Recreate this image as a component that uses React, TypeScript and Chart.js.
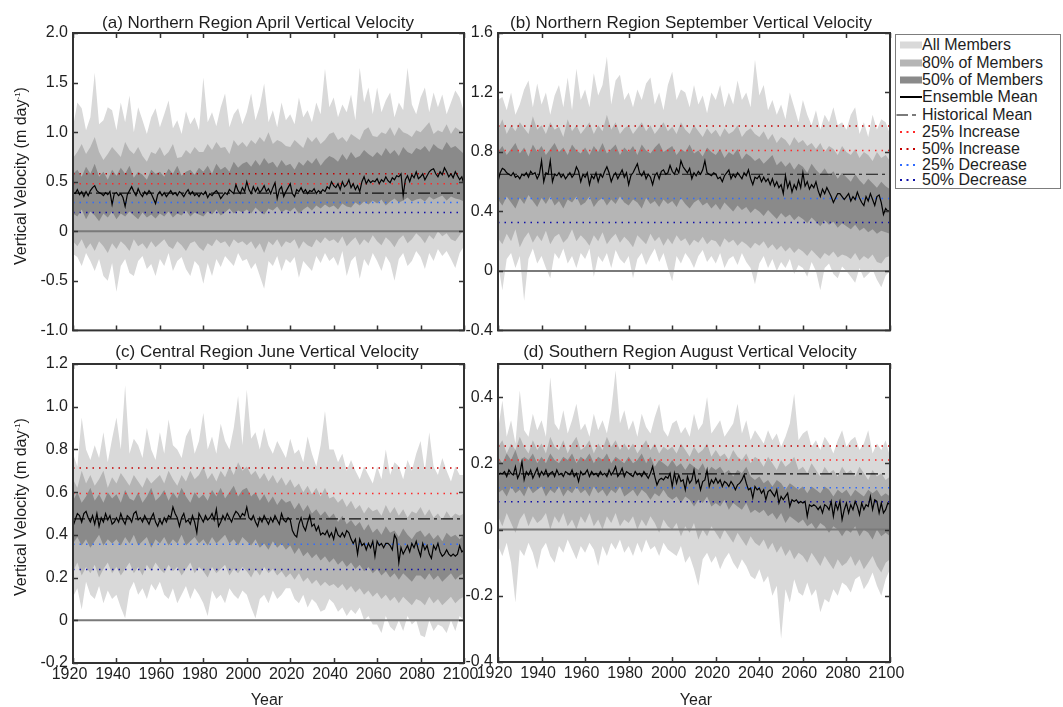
import React, { useEffect, useRef } from "react";
import { Chart, registerables } from "chart.js";

Chart.register(...registerables);

const FONT = '"Liberation Sans", Arial, Helvetica, sans-serif';

// ---------- shared categories ----------
const YEARS = Array.from({ length: 181 }, (_, i) => 1920 + i);
const BAND_YEARS = Array.from({ length: 91 }, (_, i) => 1920 + 2 * i);
const X_TICKS = [1920, 1940, 1960, 1980, 2000, 2020, 2040, 2060, 2080, 2100];
const X_LABELS = ["1920", "1940", "1960", "1980", "2000", "2020", "2040", "2060", "2080", "2100"];

// ---------- (a) Northern Region April ----------
const A_Y_TICKS = [-1, -0.5, 0, 0.5, 1, 1.5, 2];
const A_Y_LABELS = ["-1.0", "-0.5", "0", "0.5", "1.0", "1.5", "2.0"];
// historical mean, +25%, +50%, -25%, -50%
const A_LEVELS = [0.385, 0.48, 0.58, 0.29, 0.19];
const A_MEAN = [
  0.39, 0.38, 0.42, 0.37, 0.40, 0.35, 0.40, 0.36, 0.41, 0.44,
  0.46, 0.41, 0.39, 0.38, 0.36, 0.39, 0.37, 0.40, 0.27, 0.38,
  0.39, 0.36, 0.38, 0.34, 0.25, 0.37, 0.41, 0.45, 0.40, 0.36,
  0.43, 0.38, 0.35, 0.40, 0.37, 0.41, 0.38, 0.33, 0.28, 0.37,
  0.40, 0.36, 0.39, 0.35, 0.38, 0.41, 0.37, 0.39, 0.36, 0.40,
  0.38, 0.35, 0.39, 0.42, 0.37, 0.40, 0.36, 0.38, 0.35, 0.39,
  0.37, 0.40, 0.34, 0.38, 0.36, 0.39, 0.41, 0.38, 0.33, 0.36,
  0.39, 0.37, 0.42, 0.40, 0.38, 0.47, 0.41, 0.38, 0.44, 0.40,
  0.50, 0.42, 0.38, 0.45, 0.40, 0.44, 0.39, 0.42, 0.46, 0.40,
  0.43, 0.38, 0.44, 0.49, 0.33, 0.42, 0.45, 0.35, 0.40, 0.44,
  0.48, 0.38, 0.35, 0.42, 0.40, 0.44, 0.39, 0.42, 0.38, 0.41,
  0.40, 0.43, 0.38, 0.41, 0.39, 0.42, 0.40, 0.45, 0.43, 0.50,
  0.46, 0.44, 0.48, 0.42, 0.50, 0.45, 0.47, 0.52, 0.44, 0.48,
  0.42, 0.46, 0.40, 0.50, 0.55, 0.48, 0.52, 0.49, 0.51, 0.50,
  0.53, 0.48, 0.52, 0.50, 0.55, 0.51, 0.49, 0.54, 0.52, 0.56,
  0.55, 0.58, 0.36, 0.52, 0.56, 0.50, 0.57, 0.54, 0.60, 0.53,
  0.55, 0.58, 0.52, 0.56, 0.60, 0.62, 0.63, 0.58, 0.55, 0.60,
  0.57, 0.64, 0.60, 0.55, 0.58, 0.54, 0.60, 0.56, 0.52, 0.55,
  0.47,
];
const A_ALL_HI = [
  1.05, 1.30, 1.24, 1.02, 1.15, 1.60, 1.08, 1.12, 1.25, 1.22,
  1.02, 1.30, 1.10, 1.37, 1.00, 1.25, 1.12, 0.98, 1.15, 1.24,
  1.05, 1.18, 1.32, 1.04, 1.12, 0.98, 1.21, 1.08, 1.15, 1.02,
  1.55, 1.10, 1.20, 1.06, 1.25, 1.39, 1.05, 1.18, 1.24, 1.08,
  1.20, 1.39, 1.12, 1.26, 1.49, 1.10, 1.22, 1.05, 1.30, 1.12,
  1.18, 1.08, 1.35, 1.15, 1.22, 1.10, 1.30, 1.18, 1.64, 1.25,
  1.35, 1.15, 1.28, 1.20, 1.38, 1.12, 1.65, 1.30, 1.45, 1.18,
  1.45, 1.20, 1.32, 1.40, 1.15, 1.30, 1.22, 1.65, 1.28, 1.18,
  1.35, 1.45, 1.20, 1.40, 1.25, 1.38, 1.18, 1.30, 1.42, 1.35,
  1.20,
];
const A_ALL_LO = [
  -0.23, -0.26, -0.35, -0.22, -0.30, -0.40, -0.28, -0.45, -0.50, -0.32,
  -0.61, -0.35, -0.28, -0.42, -0.45, -0.30, -0.25, -0.38, -0.33, -0.45,
  -0.28, -0.35, -0.22, -0.40, -0.30, -0.26, -0.38, -0.45, -0.30, -0.35,
  -0.53, -0.32, -0.45, -0.28, -0.36, -0.25, -0.30, -0.35, -0.22, -0.30,
  -0.28, -0.38, -0.32, -0.45, -0.58, -0.30, -0.35, -0.25, -0.40, -0.28,
  -0.32, -0.26, -0.47, -0.30, -0.35, -0.40, -0.25, -0.32, -0.22, -0.30,
  -0.26, -0.35, -0.20, -0.45, -0.30, -0.25, -0.48, -0.28, -0.35, -0.22,
  -0.30, -0.40, -0.25, -0.32, -0.50, -0.28, -0.22, -0.35, -0.30, -0.20,
  -0.26, -0.38, -0.22, -0.30, -0.18, -0.25, -0.20, -0.28, -0.37, -0.22,
  -0.15,
];
const A_P80_HI = [
  0.74, 0.80, 0.88, 0.78, 0.85, 0.95, 0.80, 0.72, 0.78, 0.85,
  0.80, 0.75, 0.90, 0.82, 0.78, 0.85, 0.76, 0.70, 0.80, 0.78,
  0.85, 0.76, 0.80, 0.88, 0.74, 0.75, 0.82, 0.78, 0.85, 0.80,
  0.80, 0.88, 0.82, 0.90, 0.84, 0.85, 0.78, 0.92, 0.86, 0.90,
  0.85, 0.92, 0.88, 0.95, 0.90, 1.00, 0.88, 0.92, 0.90, 0.86,
  0.85, 0.92, 0.88, 0.84, 0.95, 0.90, 0.95, 0.88, 0.92, 0.98,
  1.00, 0.92, 0.95, 0.90, 0.98, 0.95, 0.92, 1.02, 1.05, 0.96,
  0.95, 1.00, 0.98, 1.05, 0.96, 1.05, 1.00, 0.98, 0.95, 1.02,
  1.00, 1.05, 1.10, 0.98, 1.02, 1.00, 1.08, 0.98, 1.05, 1.02,
  0.95,
];
const A_P80_LO = [
  -0.10, -0.15, -0.08, -0.18, -0.12, -0.20, -0.10, -0.15, -0.22, -0.12,
  -0.18, -0.10, -0.14, -0.20, -0.08, -0.15, -0.12, -0.18, -0.10, -0.16,
  -0.12, -0.08, -0.15, -0.18, -0.10, -0.14, -0.20, -0.12, -0.10, -0.16,
  -0.20, -0.12, -0.15, -0.08, -0.12, -0.10, -0.16, -0.08, -0.12, -0.10,
  -0.14, -0.10, -0.18, -0.12, -0.22, -0.10, -0.14, -0.08, -0.16, -0.10,
  -0.12, -0.08, -0.18, -0.10, -0.14, -0.16, -0.08, -0.12, -0.06, -0.10,
  -0.08, -0.12, -0.05, -0.15, -0.10, -0.06, -0.14, -0.08, -0.12, -0.04,
  -0.10, -0.14, -0.06, -0.10, -0.16, -0.08, -0.04, -0.12, -0.08, -0.02,
  -0.06, -0.12, -0.04, -0.08, 0.00, -0.05, -0.02, -0.08, -0.10, -0.04,
  0.02,
];
const A_P50_HI = [
  0.58, 0.62, 0.55, 0.65, 0.58, 0.68, 0.55, 0.60, 0.52, 0.62,
  0.56, 0.64, 0.58, 0.66, 0.54, 0.60, 0.57, 0.52, 0.62, 0.58,
  0.60, 0.55, 0.63, 0.58, 0.66, 0.56, 0.60, 0.62, 0.57, 0.64,
  0.60, 0.66, 0.58, 0.68, 0.62, 0.65, 0.60, 0.70, 0.64, 0.68,
  0.70, 0.65, 0.72, 0.66, 0.74, 0.68, 0.70, 0.64, 0.72, 0.66,
  0.68, 0.62, 0.70, 0.66, 0.72, 0.68, 0.74, 0.66, 0.72, 0.76,
  0.74, 0.70, 0.78, 0.72, 0.80, 0.74, 0.76, 0.82, 0.78, 0.75,
  0.80, 0.76, 0.84, 0.78, 0.82, 0.76, 0.85, 0.80, 0.78, 0.84,
  0.82, 0.86, 0.80, 0.88, 0.84, 0.82, 0.90, 0.84, 0.86, 0.82,
  0.78,
];
const A_P50_LO = [
  0.18, 0.15, 0.22, 0.12, 0.20, 0.16, 0.10, 0.18, 0.14, 0.20,
  0.12, 0.18, 0.15, 0.20, 0.16, 0.12, 0.19, 0.14, 0.17, 0.13,
  0.18, 0.15, 0.20, 0.14, 0.18, 0.16, 0.21, 0.15, 0.19, 0.17,
  0.15, 0.20, 0.17, 0.22, 0.16, 0.19, 0.23, 0.18, 0.21, 0.19,
  0.22, 0.18, 0.24, 0.20, 0.17, 0.23, 0.21, 0.25, 0.19, 0.22,
  0.20, 0.24, 0.18, 0.22, 0.25, 0.21, 0.26, 0.23, 0.27, 0.24,
  0.26, 0.22, 0.28, 0.25, 0.24, 0.29, 0.26, 0.30, 0.27, 0.31,
  0.28, 0.32, 0.26, 0.30, 0.33, 0.29, 0.31, 0.34, 0.30, 0.32,
  0.33, 0.30, 0.35, 0.32, 0.34, 0.36, 0.31, 0.35, 0.33, 0.32,
  0.30,
];

// ---------- (b) Northern Region September ----------
const B_Y_TICKS = [-0.4, 0, 0.4, 0.8, 1.2, 1.6];
const B_Y_LABELS = ["-0.4", "0", "0.4", "0.8", "1.2", "1.6"];
const B_LEVELS = [0.65, 0.81, 0.975, 0.487, 0.325];
const B_MEAN = [
  0.60, 0.66, 0.69, 0.68, 0.66, 0.65, 0.64, 0.66, 0.63, 0.64,
  0.62, 0.65, 0.64, 0.66, 0.63, 0.67, 0.65, 0.66, 0.62, 0.65,
  0.74, 0.60, 0.66, 0.65, 0.74, 0.60, 0.65, 0.64, 0.66, 0.63,
  0.65, 0.62, 0.64, 0.66, 0.63, 0.65, 0.70, 0.67, 0.60, 0.65,
  0.63, 0.66, 0.58, 0.64, 0.62, 0.66, 0.60, 0.65, 0.63, 0.67,
  0.70, 0.66, 0.60, 0.64, 0.66, 0.62, 0.65, 0.68, 0.63, 0.66,
  0.58, 0.64, 0.66, 0.69, 0.72, 0.66, 0.64, 0.67, 0.62, 0.65,
  0.63, 0.58, 0.64, 0.66, 0.62, 0.67, 0.68, 0.65, 0.66, 0.71,
  0.67, 0.65, 0.69, 0.66, 0.74, 0.70, 0.68, 0.66, 0.69, 0.62,
  0.66, 0.64, 0.67, 0.65, 0.68, 0.74, 0.66, 0.65, 0.64, 0.66,
  0.65, 0.62, 0.63, 0.60, 0.64, 0.66, 0.68, 0.62, 0.65, 0.63,
  0.66, 0.64, 0.62, 0.66, 0.64, 0.68, 0.62, 0.58, 0.63, 0.62,
  0.64, 0.60, 0.63, 0.60, 0.62, 0.58, 0.62, 0.57, 0.60, 0.56,
  0.58, 0.52, 0.64, 0.56, 0.60, 0.53, 0.58, 0.55, 0.61, 0.56,
  0.66, 0.57, 0.60, 0.55, 0.58, 0.56, 0.60, 0.54, 0.50, 0.55,
  0.52, 0.56, 0.53, 0.50, 0.46, 0.49, 0.52, 0.52, 0.50, 0.48,
  0.50, 0.52, 0.47, 0.50, 0.48, 0.53, 0.49, 0.46, 0.44, 0.50,
  0.47, 0.52, 0.48, 0.44, 0.50, 0.51, 0.46, 0.38, 0.42, 0.40,
  0.41,
];
const B_ALL_HI = [
  1.15, 1.17, 1.08, 1.20, 1.05, 1.12, 1.22, 1.28, 1.10, 1.26,
  1.12, 1.20, 1.05, 1.18, 1.25, 1.10, 1.30, 1.08, 1.36, 1.15,
  1.22, 1.10, 1.33, 1.18, 1.25, 1.44, 1.12, 1.28, 1.32, 1.15,
  1.20, 1.10, 1.22, 1.15, 1.26, 1.30, 1.12, 1.20, 1.08, 1.25,
  1.34, 1.15, 1.22, 1.20, 1.10, 1.25, 1.12, 1.18, 1.06, 1.20,
  1.15, 1.25, 1.10, 1.20, 1.12, 1.28, 1.15, 1.20, 1.10, 1.42,
  1.18, 1.25, 1.08, 1.15, 1.05, 1.12, 1.02, 1.20, 1.10, 1.00,
  1.15, 1.05, 0.98, 1.08, 0.95, 1.05, 1.00, 1.10, 0.98, 1.00,
  0.95, 1.05, 1.10, 0.92, 1.00, 0.90, 1.05, 0.95, 1.02, 1.00,
  0.92,
];
const B_ALL_LO = [
  0.05, -0.13, 0.08, 0.12, 0.02, 0.10, -0.20, 0.08, 0.15, 0.05,
  0.10, 0.02, -0.05, 0.12, 0.08, 0.15, 0.05, 0.10, 0.02, 0.12,
  0.08, 0.15, -0.04, 0.10, 0.06, 0.12, 0.02, 0.14, 0.08, 0.05,
  0.10, -0.05, 0.08, 0.12, 0.04, 0.10, 0.15, 0.06, 0.12, 0.02,
  -0.07, 0.10, 0.05, 0.12, 0.08, 0.02, 0.10, 0.14, 0.06, 0.10,
  0.05, 0.12, 0.02, 0.08, 0.10, 0.04, 0.12, 0.06, 0.02, -0.09,
  0.05, 0.10, 0.02, 0.08, 0.00, 0.06, 0.02, 0.08, -0.02, 0.04,
  0.02, -0.04, 0.06, 0.00, -0.13, 0.02, 0.05, -0.02, -0.05, 0.03,
  0.00, -0.04, -0.08, 0.02, -0.05, -0.02, 0.01, -0.06, -0.11, -0.03,
  0.00,
];
const B_P80_HI = [
  0.95, 1.02, 0.92, 0.98, 0.94, 1.00, 0.96, 0.92, 1.04, 0.95,
  0.98, 0.92, 1.00, 0.95, 0.97, 0.90, 1.02, 0.94, 0.98, 0.92,
  0.96, 1.00, 0.92, 0.98, 0.94, 1.05, 0.95, 1.00, 0.92, 0.96,
  0.98, 0.92, 0.96, 1.00, 0.94, 0.98, 0.92, 0.96, 1.00, 0.94,
  0.97, 0.92, 1.00, 0.95, 0.92, 0.98, 0.94, 0.90, 0.96, 0.92,
  0.95, 0.90, 0.96, 0.92, 0.94, 0.98, 0.90, 0.94, 0.96, 0.92,
  0.90, 0.94, 0.88, 0.92, 0.86, 0.90, 0.88, 0.84, 0.90, 0.86,
  0.88, 0.84, 0.86, 0.82, 0.86, 0.80, 0.84, 0.82, 0.78, 0.84,
  0.80, 0.78, 0.82, 0.76, 0.80, 0.78, 0.74, 0.80, 0.76, 0.78,
  0.74,
];
const B_P80_LO = [
  0.22, 0.18, 0.25, 0.20, 0.28, 0.16, 0.22, 0.26, 0.19, 0.24,
  0.20, 0.27, 0.18, 0.23, 0.25, 0.19, 0.22, 0.28, 0.20, 0.24,
  0.21, 0.17, 0.24, 0.20, 0.26, 0.18, 0.22, 0.25, 0.19, 0.23,
  0.20, 0.16, 0.24, 0.21, 0.18, 0.25, 0.20, 0.23, 0.17, 0.22,
  0.18, 0.24, 0.20, 0.22, 0.17, 0.21, 0.19, 0.23, 0.18, 0.21,
  0.20, 0.16, 0.22, 0.19, 0.21, 0.17, 0.20, 0.18, 0.15, 0.19,
  0.17, 0.20, 0.15, 0.18, 0.14, 0.17, 0.13, 0.16, 0.12, 0.15,
  0.13, 0.10, 0.14, 0.11, 0.08, 0.12, 0.10, 0.13, 0.09, 0.11,
  0.10, 0.08, 0.12, 0.07, 0.10, 0.08, 0.11, 0.06, 0.05, 0.09,
  0.10,
];
const B_P50_HI = [
  0.80, 0.84, 0.78, 0.82, 0.86, 0.79, 0.83, 0.77, 0.85, 0.80,
  0.84, 0.78, 0.82, 0.86, 0.80, 0.83, 0.78, 0.85, 0.81, 0.79,
  0.83, 0.78, 0.84, 0.80, 0.86, 0.79, 0.82, 0.85, 0.78, 0.83,
  0.80, 0.84, 0.78, 0.85, 0.81, 0.79, 0.83, 0.86, 0.80, 0.82,
  0.84, 0.78, 0.82, 0.80, 0.85, 0.79, 0.81, 0.77, 0.83, 0.80,
  0.78, 0.82, 0.76, 0.80, 0.78, 0.82, 0.75, 0.79, 0.77, 0.74,
  0.76, 0.72, 0.75, 0.78, 0.71, 0.74, 0.70, 0.73, 0.68, 0.72,
  0.70, 0.66, 0.72, 0.68, 0.65, 0.69, 0.64, 0.67, 0.62, 0.66,
  0.63, 0.60, 0.65, 0.61, 0.58, 0.62, 0.59, 0.56, 0.60, 0.57,
  0.55,
];
const B_P50_LO = [
  0.48, 0.44, 0.50, 0.46, 0.42, 0.49, 0.45, 0.51, 0.47, 0.43,
  0.49, 0.45, 0.50, 0.44, 0.47, 0.42, 0.48, 0.46, 0.50, 0.44,
  0.46, 0.50, 0.43, 0.47, 0.49, 0.44, 0.48, 0.45, 0.50, 0.46,
  0.44, 0.48, 0.46, 0.42, 0.49, 0.45, 0.47, 0.43, 0.48, 0.45,
  0.47, 0.43, 0.49, 0.45, 0.42, 0.46, 0.48, 0.44, 0.46, 0.42,
  0.45, 0.41, 0.46, 0.43, 0.40, 0.44, 0.41, 0.43, 0.39, 0.42,
  0.40, 0.37, 0.41, 0.38, 0.35, 0.39, 0.36, 0.38, 0.34, 0.37,
  0.35, 0.32, 0.36, 0.33, 0.30, 0.34, 0.31, 0.33, 0.29, 0.32,
  0.30, 0.28, 0.31, 0.27, 0.29, 0.26, 0.28, 0.25, 0.27, 0.26,
  0.25,
];

// ---------- (c) Central Region June ----------
const C_Y_TICKS = [-0.2, 0, 0.2, 0.4, 0.6, 0.8, 1.0, 1.2];
const C_Y_LABELS = ["-0.2", "0", "0.2", "0.4", "0.6", "0.8", "1.0", "1.2"];
const C_LEVELS = [0.475, 0.594, 0.7125, 0.356, 0.2375];
const C_MEAN = [
  0.44, 0.47, 0.50, 0.49, 0.46, 0.50, 0.51, 0.48, 0.46, 0.49,
  0.45, 0.50, 0.44, 0.48, 0.46, 0.50, 0.47, 0.49, 0.45, 0.46,
  0.48, 0.46, 0.50, 0.47, 0.45, 0.49, 0.48, 0.46, 0.50, 0.51,
  0.47, 0.48, 0.46, 0.49, 0.47, 0.45, 0.48, 0.50, 0.46, 0.44,
  0.47, 0.45, 0.48, 0.46, 0.49, 0.48, 0.53, 0.50, 0.48, 0.44,
  0.48, 0.50, 0.46, 0.47, 0.45, 0.49, 0.46, 0.41, 0.50, 0.48,
  0.46, 0.49, 0.47, 0.48, 0.50, 0.47, 0.52, 0.44, 0.46, 0.49,
  0.47, 0.50, 0.48, 0.46, 0.49, 0.51, 0.50, 0.48, 0.50, 0.49,
  0.53, 0.48, 0.47, 0.49, 0.46, 0.44, 0.48, 0.46, 0.49, 0.47,
  0.45, 0.48, 0.46, 0.49, 0.47, 0.45, 0.50, 0.47, 0.46, 0.48,
  0.47, 0.42, 0.40, 0.39, 0.45, 0.48, 0.44, 0.42, 0.46, 0.49,
  0.44, 0.45, 0.42, 0.44, 0.40, 0.41, 0.40, 0.42, 0.39, 0.41,
  0.38, 0.43, 0.40, 0.39, 0.41, 0.39, 0.42, 0.41, 0.38, 0.36,
  0.38, 0.31, 0.38, 0.35, 0.36, 0.33, 0.36, 0.34, 0.37, 0.30,
  0.37, 0.35, 0.36, 0.34, 0.36, 0.36, 0.35, 0.33, 0.40, 0.38,
  0.27, 0.34, 0.31, 0.33, 0.35, 0.32, 0.36, 0.34, 0.37, 0.33,
  0.30, 0.36, 0.33, 0.35, 0.31, 0.29, 0.35, 0.33, 0.36, 0.32,
  0.30, 0.31, 0.33, 0.31, 0.30, 0.31, 0.30, 0.31, 0.35, 0.32,
  0.33,
];
const C_ALL_HI = [
  0.78, 0.72, 0.95, 0.80, 0.75, 0.82, 0.76, 0.88, 0.74, 0.85,
  0.95, 0.80, 1.10, 0.78, 0.85, 0.82, 0.76, 0.90, 0.80, 0.75,
  0.88, 0.78, 0.94, 0.82, 0.80, 0.76, 0.86, 0.90, 0.78, 0.84,
  0.97, 0.80, 0.86, 0.78, 0.92, 0.84, 0.80, 0.90, 1.05, 0.82,
  1.08, 0.85, 0.88, 0.80, 0.90, 0.82, 0.78, 0.84, 0.80, 0.76,
  0.85, 0.78, 0.80, 0.74, 0.86, 0.78, 0.72, 0.82, 0.98, 0.80,
  0.80, 0.74, 0.78, 0.70, 0.75, 0.70, 0.66, 0.72, 0.68, 0.64,
  0.72, 0.66, 0.80, 0.68, 0.74, 0.72, 0.66, 0.75, 0.70, 0.78,
  0.84, 0.70, 0.88, 0.72, 0.68, 0.76, 0.70, 0.65, 0.72, 0.68,
  0.68,
];
const C_ALL_LO = [
  0.11, 0.15, 0.05, 0.18, 0.12, 0.10, 0.16, 0.08, 0.14, 0.10,
  0.12, 0.06, 0.01, 0.14, 0.18, 0.12, 0.15, 0.10, 0.17, 0.14,
  0.18, 0.12, 0.10, 0.15, 0.08, 0.12, 0.16, 0.10, 0.15, 0.12,
  0.08, 0.02, 0.14, 0.10, 0.12, 0.08, 0.15, 0.12, 0.10, 0.14,
  0.12, 0.06, 0.01, 0.10, 0.12, 0.08, 0.14, 0.10, 0.12, 0.15,
  0.15, 0.10, 0.08, 0.12, 0.06, 0.10, 0.08, 0.04, 0.05, 0.10,
  0.08, 0.04, 0.06, 0.02, 0.05, 0.03, 0.06, 0.00, 0.02, -0.02,
  -0.02, -0.06, 0.02, -0.03, -0.05, 0.00, -0.05, 0.02, -0.02, 0.00,
  -0.07, -0.08, 0.00, -0.05, -0.02, -0.03, -0.06, 0.00, -0.05, 0.02,
  0.00,
];
const C_P80_HI = [
  0.66, 0.62, 0.70, 0.64, 0.68, 0.63, 0.66, 0.70, 0.62, 0.67,
  0.64, 0.69, 0.66, 0.63, 0.68, 0.65, 0.62, 0.67, 0.64, 0.66,
  0.68, 0.64, 0.70, 0.66, 0.63, 0.68, 0.65, 0.70, 0.66, 0.68,
  0.72, 0.66, 0.69, 0.65, 0.70, 0.67, 0.72, 0.68, 0.74, 0.70,
  0.72, 0.68, 0.70, 0.66, 0.69, 0.65, 0.68, 0.64, 0.67, 0.63,
  0.66, 0.62, 0.64, 0.60, 0.63, 0.59, 0.62, 0.58, 0.62, 0.57,
  0.58, 0.55, 0.57, 0.53, 0.56, 0.52, 0.54, 0.50, 0.53, 0.51,
  0.52, 0.49, 0.54, 0.50, 0.53, 0.49, 0.52, 0.48, 0.51, 0.50,
  0.53, 0.49, 0.52, 0.48, 0.50, 0.47, 0.51, 0.48, 0.50, 0.49,
  0.50,
];
const C_P80_LO = [
  0.23, 0.27, 0.21, 0.25, 0.22, 0.26, 0.20, 0.24, 0.27, 0.22,
  0.25, 0.21, 0.24, 0.27, 0.22, 0.25, 0.21, 0.26, 0.23, 0.27,
  0.24, 0.22, 0.26, 0.23, 0.25, 0.21, 0.24, 0.27, 0.22, 0.25,
  0.23, 0.20, 0.25, 0.22, 0.24, 0.26, 0.21, 0.24, 0.22, 0.25,
  0.23, 0.20, 0.24, 0.21, 0.25, 0.22, 0.24, 0.21, 0.23, 0.20,
  0.22, 0.19, 0.22, 0.18, 0.20, 0.17, 0.19, 0.16, 0.18, 0.16,
  0.17, 0.15, 0.17, 0.14, 0.16, 0.13, 0.15, 0.12, 0.14, 0.11,
  0.13, 0.10, 0.12, 0.09, 0.11, 0.08, 0.11, 0.09, 0.07, 0.10,
  0.09, 0.07, 0.11, 0.08, 0.10, 0.07, 0.09, 0.11, 0.08, 0.10,
  0.11,
];
const C_P50_HI = [
  0.56, 0.60, 0.55, 0.58, 0.62, 0.56, 0.59, 0.55, 0.60, 0.57,
  0.59, 0.55, 0.61, 0.57, 0.56, 0.60, 0.55, 0.58, 0.62, 0.56,
  0.58, 0.61, 0.56, 0.60, 0.57, 0.62, 0.58, 0.55, 0.60, 0.57,
  0.59, 0.56, 0.61, 0.58, 0.62, 0.57, 0.60, 0.63, 0.58, 0.61,
  0.62, 0.58, 0.60, 0.56, 0.59, 0.55, 0.58, 0.54, 0.57, 0.55,
  0.56, 0.52, 0.55, 0.51, 0.54, 0.50, 0.52, 0.49, 0.51, 0.48,
  0.50, 0.46, 0.49, 0.45, 0.47, 0.44, 0.46, 0.42, 0.45, 0.41,
  0.43, 0.40, 0.44, 0.41, 0.42, 0.39, 0.43, 0.40, 0.38, 0.41,
  0.42, 0.39, 0.41, 0.38, 0.40, 0.37, 0.41, 0.39, 0.40, 0.38,
  0.40,
];
const C_P50_LO = [
  0.36, 0.39, 0.35, 0.38, 0.34, 0.37, 0.40, 0.35, 0.38, 0.36,
  0.38, 0.35, 0.39, 0.36, 0.40, 0.35, 0.37, 0.39, 0.34, 0.38,
  0.36, 0.39, 0.35, 0.38, 0.36, 0.40, 0.35, 0.37, 0.39, 0.36,
  0.38, 0.35, 0.39, 0.36, 0.38, 0.40, 0.36, 0.38, 0.35, 0.39,
  0.37, 0.35, 0.38, 0.34, 0.36, 0.33, 0.37, 0.34, 0.36, 0.33,
  0.35, 0.31, 0.34, 0.30, 0.32, 0.29, 0.31, 0.28, 0.30, 0.27,
  0.29, 0.26, 0.28, 0.25, 0.27, 0.24, 0.26, 0.23, 0.25, 0.22,
  0.24, 0.21, 0.23, 0.20, 0.22, 0.19, 0.22, 0.20, 0.18, 0.21,
  0.21, 0.19, 0.22, 0.19, 0.21, 0.18, 0.20, 0.22, 0.19, 0.21,
  0.22,
];

// ---------- (d) Southern Region August ----------
const D_Y_TICKS = [-0.4, -0.2, 0, 0.2, 0.4];
const D_Y_LABELS = ["-0.4", "-0.2", "0", "0.2", "0.4"];
const D_LEVELS = [0.168, 0.21, 0.252, 0.126, 0.084];
const D_MEAN = [
  0.165, 0.17, 0.168, 0.175, 0.16, 0.18, 0.17, 0.165, 0.19, 0.155,
  0.17, 0.205, 0.15, 0.175, 0.165, 0.18, 0.155, 0.17, 0.185, 0.16,
  0.175, 0.165, 0.18, 0.16, 0.17, 0.175, 0.16, 0.18, 0.165, 0.17,
  0.16, 0.175, 0.17, 0.165, 0.18, 0.16, 0.17, 0.145, 0.175, 0.165,
  0.17, 0.18, 0.16, 0.175, 0.165, 0.17, 0.16, 0.175, 0.165, 0.17,
  0.16, 0.18, 0.165, 0.175, 0.19, 0.16, 0.17, 0.185, 0.16, 0.175,
  0.17, 0.165, 0.16, 0.175, 0.165, 0.17, 0.16, 0.175, 0.165, 0.155,
  0.17, 0.19, 0.16, 0.135, 0.15, 0.155, 0.15, 0.16, 0.155, 0.17,
  0.13, 0.17, 0.14, 0.165, 0.145, 0.15, 0.12, 0.16, 0.14, 0.15,
  0.18, 0.14, 0.15, 0.12, 0.145, 0.15, 0.18, 0.13, 0.15, 0.14,
  0.155, 0.14, 0.15, 0.13, 0.145, 0.14, 0.13, 0.145, 0.135, 0.12,
  0.135, 0.14, 0.15, 0.165, 0.14, 0.12, 0.125, 0.095, 0.13, 0.12,
  0.125, 0.11, 0.12, 0.09, 0.115, 0.12, 0.11, 0.10, 0.12, 0.08,
  0.10, 0.09, 0.10, 0.11, 0.07, 0.09, 0.085, 0.09, 0.08, 0.085,
  0.08, 0.085, 0.04, 0.075, 0.07, 0.075, 0.07, 0.06, 0.07, 0.05,
  0.075, 0.07, 0.06, 0.085, 0.04, 0.08, 0.06, 0.085, 0.03, 0.06,
  0.08, 0.05, 0.075, 0.06, 0.085, 0.07, 0.045, 0.08, 0.06, 0.075,
  0.07, 0.10, 0.06, 0.09, 0.085, 0.05, 0.08, 0.05, 0.06, 0.08,
  0.075,
];
const D_ALL_HI = [
  0.30, 0.39, 0.28, 0.33, 0.26, 0.42, 0.30, 0.28, 0.35, 0.30,
  0.33, 0.28, 0.46, 0.32, 0.30, 0.36, 0.29, 0.33, 0.38, 0.30,
  0.32, 0.28, 0.35, 0.30, 0.33, 0.29, 0.36, 0.48, 0.32, 0.36,
  0.30, 0.33, 0.28, 0.35, 0.31, 0.29, 0.34, 0.38, 0.30, 0.28,
  0.32, 0.33, 0.29, 0.31, 0.28, 0.35, 0.30, 0.32, 0.40, 0.29,
  0.31, 0.33, 0.28, 0.30, 0.32, 0.38, 0.29, 0.33, 0.27, 0.30,
  0.28, 0.26, 0.30, 0.27, 0.29, 0.25, 0.28, 0.32, 0.41, 0.27,
  0.29, 0.30, 0.25, 0.27, 0.24, 0.28, 0.26, 0.23, 0.27, 0.30,
  0.25, 0.27, 0.28, 0.24, 0.26, 0.30, 0.23, 0.26, 0.24, 0.27,
  0.22,
];
const D_ALL_LO = [
  -0.05, -0.08, -0.04, -0.10, -0.22, -0.06, -0.08, -0.04, -0.07, -0.12,
  -0.06, -0.04, -0.08, -0.10, -0.05, -0.07, -0.03, -0.06, -0.09, -0.05,
  -0.07, -0.04, -0.06, -0.11, -0.05, -0.08, -0.04, -0.06, -0.03, -0.07,
  -0.05, -0.08, -0.04, -0.07, -0.03, -0.06, -0.05, -0.08, -0.04, -0.06,
  -0.07, -0.08, -0.05, -0.10, -0.08, -0.12, -0.17, -0.09, -0.07, -0.10,
  -0.08, -0.12, -0.09, -0.07, -0.10, -0.12, -0.09, -0.11, -0.14, -0.15,
  -0.12, -0.16, -0.14, -0.20, -0.17, -0.33, -0.18, -0.22, -0.15, -0.19,
  -0.20, -0.16, -0.20, -0.18, -0.25, -0.21, -0.22, -0.18, -0.20, -0.16,
  -0.17, -0.19, -0.15, -0.14, -0.18, -0.16, -0.13, -0.17, -0.20, -0.15,
  -0.12,
];
const D_P80_HI = [
  0.25, 0.27, 0.23, 0.26, 0.24, 0.28, 0.25, 0.23, 0.27, 0.24,
  0.26, 0.23, 0.28, 0.25, 0.24, 0.27, 0.23, 0.26, 0.28, 0.24,
  0.25, 0.27, 0.23, 0.26, 0.24, 0.28, 0.25, 0.27, 0.24, 0.26,
  0.24, 0.26, 0.23, 0.25, 0.27, 0.24, 0.26, 0.23, 0.25, 0.24,
  0.25, 0.23, 0.26, 0.24, 0.22, 0.25, 0.23, 0.24, 0.26, 0.22,
  0.24, 0.22, 0.23, 0.21, 0.24, 0.22, 0.21, 0.23, 0.20, 0.22,
  0.21, 0.19, 0.22, 0.20, 0.18, 0.21, 0.19, 0.20, 0.22, 0.18,
  0.19, 0.17, 0.20, 0.18, 0.16, 0.19, 0.17, 0.18, 0.16, 0.19,
  0.17, 0.18, 0.16, 0.19, 0.17, 0.15, 0.18, 0.16, 0.17, 0.15,
  0.16,
];
const D_P80_LO = [
  0.04, 0.01, 0.05, 0.02, -0.01, 0.03, 0.05, 0.01, 0.04, 0.02,
  0.03, 0.05, 0.00, 0.04, 0.02, 0.05, 0.01, 0.03, 0.00, 0.04,
  0.02, 0.05, 0.01, 0.03, 0.00, 0.04, 0.02, 0.05, 0.01, 0.03,
  0.02, 0.04, 0.00, 0.03, 0.01, 0.04, 0.02, -0.01, 0.03, 0.01,
  0.00, 0.02, -0.02, 0.01, -0.01, 0.02, -0.03, 0.00, -0.02, 0.01,
  -0.01, -0.03, 0.00, -0.02, -0.04, -0.01, -0.03, -0.05, -0.02, -0.04,
  -0.05, -0.03, -0.06, -0.04, -0.07, -0.05, -0.08, -0.06, -0.09, -0.07,
  -0.08, -0.10, -0.07, -0.09, -0.11, -0.08, -0.10, -0.12, -0.09, -0.11,
  -0.10, -0.08, -0.11, -0.09, -0.12, -0.10, -0.08, -0.11, -0.13, -0.10,
  -0.09,
];
const D_P50_HI = [
  0.22, 0.20, 0.23, 0.21, 0.24, 0.20, 0.22, 0.21, 0.23, 0.20,
  0.22, 0.20, 0.23, 0.21, 0.20, 0.22, 0.21, 0.23, 0.20, 0.22,
  0.21, 0.23, 0.20, 0.22, 0.21, 0.23, 0.20, 0.22, 0.21, 0.20,
  0.22, 0.20, 0.21, 0.23, 0.20, 0.22, 0.19, 0.21, 0.20, 0.19,
  0.21, 0.19, 0.20, 0.18, 0.20, 0.19, 0.18, 0.20, 0.17, 0.19,
  0.18, 0.19, 0.17, 0.18, 0.16, 0.18, 0.17, 0.19, 0.16, 0.15,
  0.16, 0.14, 0.15, 0.13, 0.15, 0.14, 0.12, 0.14, 0.13, 0.12,
  0.13, 0.11, 0.13, 0.12, 0.11, 0.13, 0.12, 0.10, 0.12, 0.11,
  0.12, 0.10, 0.12, 0.11, 0.10, 0.12, 0.11, 0.12, 0.10, 0.11,
  0.10,
];
const D_P50_LO = [
  0.11, 0.12, 0.10, 0.13, 0.11, 0.12, 0.10, 0.13, 0.11, 0.12,
  0.13, 0.10, 0.12, 0.11, 0.13, 0.10, 0.12, 0.11, 0.13, 0.11,
  0.12, 0.10, 0.13, 0.11, 0.12, 0.10, 0.12, 0.11, 0.13, 0.10,
  0.11, 0.12, 0.10, 0.12, 0.11, 0.09, 0.11, 0.10, 0.12, 0.10,
  0.09, 0.10, 0.08, 0.10, 0.09, 0.07, 0.09, 0.08, 0.10, 0.07,
  0.08, 0.07, 0.09, 0.06, 0.08, 0.07, 0.06, 0.08, 0.05, 0.06,
  0.05, 0.06, 0.04, 0.05, 0.03, 0.05, 0.02, 0.04, 0.03, 0.02,
  0.03, 0.01, 0.02, 0.00, 0.02, 0.01, -0.01, 0.01, 0.00, -0.02,
  0.00, -0.01, 0.01, -0.02, 0.00, -0.01, -0.03, 0.00, -0.02, -0.01,
  -0.02,
];

// ---------- styles ----------
const COL_ALL = "#d9d9d9";
const COL_80 = "#b5b5b5";
const COL_50 = "#8a8a8a";
const COL_INC25 = "#ff2a2a";
const COL_INC50 = "#c40000";
const COL_DEC25 = "#2f6bff";
const COL_DEC50 = "#1010a8";
const TEXT = "#1e1e1e";

type PanelCfg = {
  left: number; top: number; width: number; height: number;
  pad: { left: number; top: number; right: number; bottom: number };
  xHeight: number; showX: boolean;
  yMin: number; yMax: number; yTicks: number[]; yLabels: string[];
  levels: number[]; mean: number[];
  allHi: number[]; allLo: number[]; p80Hi: number[]; p80Lo: number[]; p50Hi: number[]; p50Lo: number[];
};

const PANELS: PanelCfg[] = [
  {
    left: 0, top: 0, width: 494, height: 345, pad: { left: 0, top: 33, right: 30, bottom: 11 }, xHeight: 0, showX: false,
    yMin: -1, yMax: 2, yTicks: A_Y_TICKS, yLabels: A_Y_LABELS, levels: A_LEVELS, mean: A_MEAN,
    allHi: A_ALL_HI, allLo: A_ALL_LO, p80Hi: A_P80_HI, p80Lo: A_P80_LO, p50Hi: A_P50_HI, p50Lo: A_P50_LO,
  },
  {
    left: 425, top: 0, width: 495, height: 345, pad: { left: 0, top: 33, right: 30, bottom: 10 }, xHeight: 0, showX: false,
    yMin: -0.4, yMax: 1.6, yTicks: B_Y_TICKS, yLabels: B_Y_LABELS, levels: B_LEVELS, mean: B_MEAN,
    allHi: B_ALL_HI, allLo: B_ALL_LO, p80Hi: B_P80_HI, p80Lo: B_P80_LO, p50Hi: B_P50_HI, p50Lo: B_P50_LO,
  },
  {
    left: 0, top: 340, width: 494, height: 367, pad: { left: 0, top: 24, right: 30, bottom: 14 }, xHeight: 30, showX: true,
    yMin: -0.2, yMax: 1.2, yTicks: C_Y_TICKS, yLabels: C_Y_LABELS, levels: C_LEVELS, mean: C_MEAN,
    allHi: C_ALL_HI, allLo: C_ALL_LO, p80Hi: C_P80_HI, p80Lo: C_P80_LO, p50Hi: C_P50_HI, p50Lo: C_P50_LO,
  },
  {
    left: 425, top: 340, width: 495, height: 367, pad: { left: 0, top: 24, right: 30, bottom: 15 }, xHeight: 30, showX: true,
    yMin: -0.4, yMax: 0.5, yTicks: D_Y_TICKS, yLabels: D_Y_LABELS, levels: D_LEVELS, mean: D_MEAN,
    allHi: D_ALL_HI, allLo: D_ALL_LO, p80Hi: D_P80_HI, p80Lo: D_P80_LO, p50Hi: D_P50_HI, p50Lo: D_P50_LO,
  },
];

const pts = (xs: number[], ys: number[]) => xs.map((x, i) => ({ x, y: ys[i] }));
const flat = (v: number) => [{ x: 1920, y: v }, { x: 2100, y: v }];

const framePlugin = {
  id: "frame",
  afterDraw(chart: any, _args: any, opts: any) {
    const { ctx, chartArea } = chart;
    const { left, right, top, bottom } = chartArea;
    const xs = chart.scales.x;
    const ys = chart.scales.y;
    const L = 5;
    ctx.save();
    ctx.strokeStyle = "#333333";
    ctx.lineWidth = 1.5;
    ctx.beginPath();
    for (const v of X_TICKS) {
      const px = Math.round(xs.getPixelForValue(v)) + 0.5;
      ctx.moveTo(px, bottom);
      ctx.lineTo(px, bottom - L);
      ctx.moveTo(px, top);
      ctx.lineTo(px, top + L);
    }
    for (const v of opts.yTicks as number[]) {
      const py = Math.round(ys.getPixelForValue(v)) + 0.5;
      ctx.moveTo(left, py);
      ctx.lineTo(left + L, py);
      ctx.moveTo(right, py);
      ctx.lineTo(right - L, py);
    }
    ctx.stroke();
    ctx.lineWidth = 2;
    ctx.strokeRect(left, top, right - left, bottom - top);
    ctx.restore();
  },
};

function Panel({ cfg }: { cfg: PanelCfg }) {
  const ref = useRef<HTMLCanvasElement>(null);
  useEffect(() => {
    const line = (label: string, data: any, color: string, width: number, dash: number[], order: number) => ({
      label, data, borderColor: color, borderWidth: width, borderDash: dash, pointRadius: 0, fill: false, order, tension: 0,
    });
    const band = (label: string, data: any, color: string, fill: any, order: number) => ({
      label, data, borderColor: "rgba(0,0,0,0)", borderWidth: 0, backgroundColor: color, pointRadius: 0, fill, order, tension: 0,
    });
    const lv = cfg.levels;
    const chart = new Chart(ref.current as HTMLCanvasElement, {
      type: "line",
      data: {
        datasets: [
          line("Ensemble Mean", pts(YEARS, cfg.mean), "#000000", 1.2, [], 0),
          line("Historical Mean", flat(lv[0]), "#111111", 1.2, [12, 4, 3, 4], 1),
          line("25% Increase", flat(lv[1]), COL_INC25, 1.5, [1.5, 5], 2),
          line("50% Increase", flat(lv[2]), COL_INC50, 1.5, [1.5, 5], 2),
          line("25% Decrease", flat(lv[3]), COL_DEC25, 1.5, [1.5, 5], 2),
          line("50% Decrease", flat(lv[4]), COL_DEC50, 1.5, [1.5, 5], 2),
          line("zero", flat(0), "#7a7a7a", 2, [], 3),
          band("50% hi", pts(BAND_YEARS, cfg.p50Hi), COL_50, 8, 4),
          band("50% lo", pts(BAND_YEARS, cfg.p50Lo), COL_50, false, 4),
          band("80% hi", pts(BAND_YEARS, cfg.p80Hi), COL_80, 10, 5),
          band("80% lo", pts(BAND_YEARS, cfg.p80Lo), COL_80, false, 5),
          band("all hi", pts(BAND_YEARS, cfg.allHi), COL_ALL, 12, 6),
          band("all lo", pts(BAND_YEARS, cfg.allLo), COL_ALL, false, 6),
        ] as any,
      },
      options: {
        animation: false,
        responsive: false,
        events: [],
        layout: { padding: cfg.pad },
        plugins: {
          legend: { display: false },
          tooltip: { enabled: false },
          title: { display: false },
          frame: { yTicks: cfg.yTicks },
        } as any,
        scales: {
          x: {
            type: "linear",
            min: 1920,
            max: 2100,
            afterBuildTicks: (s: any) => { s.ticks = X_TICKS.map((v) => ({ value: v })); },
            afterFit: (s: any) => { s.height = cfg.xHeight; },
            grid: { display: false, drawTicks: false },
            border: { display: false },
            ticks: {
              display: cfg.showX,
              autoSkip: false,
              maxRotation: 0,
              minRotation: 0,
              padding: 2,
              labelOffset: -3.5,
              color: TEXT,
              font: { family: FONT, size: 16 },
              callback: (_v: any, i: number) => X_LABELS[i],
            },
          },
          y: {
            type: "linear",
            min: cfg.yMin,
            max: cfg.yMax,
            afterBuildTicks: (s: any) => { s.ticks = cfg.yTicks.map((v) => ({ value: v })); },
            afterFit: (s: any) => { s.width = 73; },
            grid: { display: false, drawTicks: false },
            border: { display: false },
            ticks: {
              padding: 5,
              color: TEXT,
              font: { family: FONT, size: 16 },
              callback: (_v: any, i: number) => cfg.yLabels[i],
            },
          },
        } as any,
      },
      plugins: [framePlugin],
    });
    return () => chart.destroy();
  }, [cfg]);
  return (
    <canvas
      ref={ref}
      width={cfg.width}
      height={cfg.height}
      style={{ position: "absolute", left: cfg.left, top: cfg.top, width: cfg.width, height: cfg.height }}
    />
  );
}

function Label({ x, y, size, rotate, children }: { x: number; y: number; size: number; rotate?: boolean; children: any }) {
  return (
    <div
      style={{
        position: "absolute",
        left: x,
        top: y,
        transform: `translate(-50%, -50%)${rotate ? " rotate(-90deg)" : ""}`,
        whiteSpace: "nowrap",
        fontFamily: FONT,
        fontSize: size,
        lineHeight: 1,
        color: TEXT,
      }}
    >
      {children}
    </div>
  );
}

const YTITLE = (
  <>
    Vertical Velocity (m day<sup style={{ fontSize: 8, verticalAlign: 6 }}>-1</sup>)
  </>
);

type LegendRow = { label: string; kind: string; color: string; y: number };
const LEGEND_ROWS: LegendRow[] = [
  { label: "All Members", kind: "patch", color: COL_ALL, y: 45 },
  { label: "80% of Members", kind: "patch", color: COL_80, y: 62.5 },
  { label: "50% of Members", kind: "patch", color: COL_50, y: 80 },
  { label: "Ensemble Mean", kind: "line", color: "#000", y: 97.3 },
  { label: "Historical Mean", kind: "dashdot", color: "#333", y: 114.5 },
  { label: "25% Increase", kind: "dots", color: COL_INC25, y: 131.5 },
  { label: "50% Increase", kind: "dots", color: COL_INC50, y: 149 },
  { label: "25% Decrease", kind: "dots", color: COL_DEC25, y: 164.5 },
  { label: "50% Decrease", kind: "dots", color: COL_DEC50, y: 179.5 },
];

function Swatch({ kind, color }: { kind: string; color: string }) {
  return (
    <svg width={28} height={12} style={{ position: "absolute", left: 0, top: -6 }}>
      {kind === "patch" && <rect x={5} y={2.5} width={22} height={7} fill={color} />}
      {kind === "line" && <line x1={5} y1={6} x2={27} y2={6} stroke={color} strokeWidth={2} />}
      {kind === "dashdot" && (
        <>
          <line x1={1.5} y1={6} x2={13} y2={6} stroke={color} strokeWidth={1.3} />
          <line x1={17} y1={6} x2={21} y2={6} stroke={color} strokeWidth={1.3} />
        </>
      )}
      {kind === "dots" && (
        <>
          <rect x={5} y={5} width={2} height={2} fill={color} />
          <rect x={11.5} y={5} width={2} height={2} fill={color} />
          <rect x={18} y={5} width={2} height={2} fill={color} />
        </>
      )}
    </svg>
  );
}

function Legend() {
  return (
    <>
      <div
        style={{
          position: "absolute",
          left: 895,
          top: 34,
          width: 166,
          height: 155,
          border: "1.5px solid #7d7d7d",
          boxSizing: "border-box",
          background: "#ffffff",
        }}
      />
      {LEGEND_ROWS.map((r) => (
        <div key={r.label} style={{ position: "absolute", left: 895, top: r.y, height: 0 }}>
          <Swatch kind={r.kind} color={r.color} />
          <div
            style={{
              position: "absolute",
              left: 27,
              top: -9,
              fontFamily: FONT,
              fontSize: 16,
              lineHeight: "18px",
              whiteSpace: "nowrap",
              color: TEXT,
            }}
          >
            {r.label}
          </div>
        </div>
      ))}
    </>
  );
}

export default function App() {
  return (
    <div style={{ position: "absolute", left: 0, top: 0, width: 1063, height: 707, background: "#ffffff", overflow: "hidden" }}>
      {PANELS.map((p, i) => (
        <Panel key={i} cfg={p} />
      ))}
      <Label x={258} y={22} size={17}>(a) Northern Region April Vertical Velocity</Label>
      <Label x={691} y={22} size={17}>(b) Northern Region September Vertical Velocity</Label>
      <Label x={267} y={351} size={17}>(c) Central Region June Vertical Velocity</Label>
      <Label x={690} y={351} size={17}>(d) Southern Region August Vertical Velocity</Label>
      <Label x={21} y={176} size={16} rotate>{YTITLE}</Label>
      <Label x={21} y={507} size={16} rotate>{YTITLE}</Label>
      <Label x={267} y={700} size={16}>Year</Label>
      <Label x={696} y={700} size={16}>Year</Label>
      <Legend />
    </div>
  );
}
